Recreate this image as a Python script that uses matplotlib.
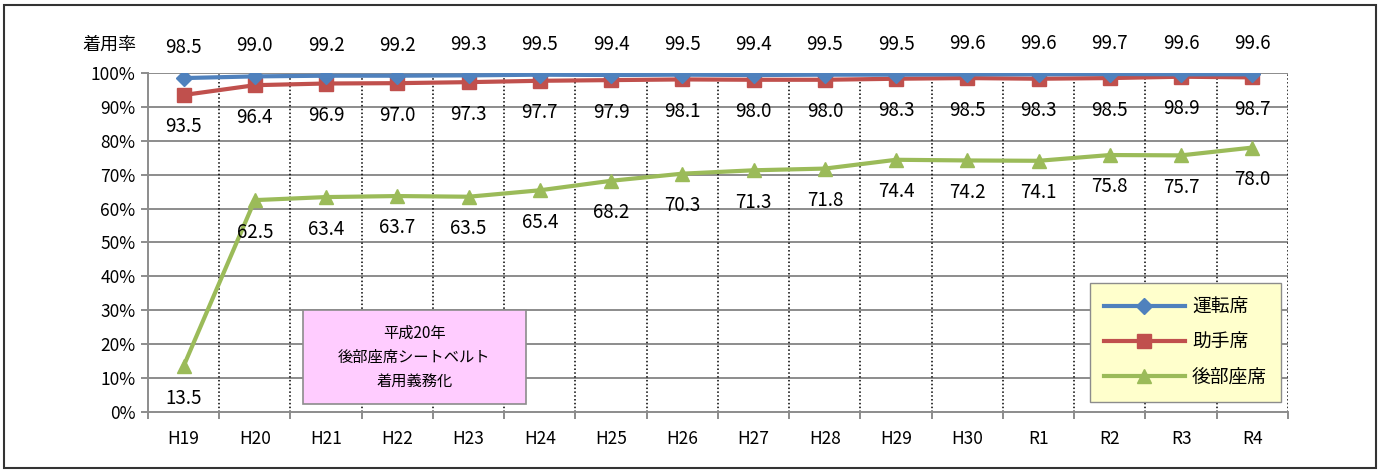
import matplotlib.pyplot as plt
import numpy as np
from matplotlib.patches import Rectangle

plt.rcParams['font.family'] = ['Noto Sans CJK JP', 'DejaVu Sans']

years = ['H19', 'H20', 'H21', 'H22', 'H23', 'H24', 'H25', 'H26', 'H27', 'H28',
         'H29', 'H30', 'R1', 'R2', 'R3', 'R4']
driver = [98.5, 99.0, 99.2, 99.2, 99.3, 99.5, 99.4, 99.5, 99.4, 99.5,
          99.5, 99.6, 99.6, 99.7, 99.6, 99.6]
passenger = [93.5, 96.4, 96.9, 97.0, 97.3, 97.7, 97.9, 98.1, 98.0, 98.0,
             98.3, 98.5, 98.3, 98.5, 98.9, 98.7]
rear = [13.5, 62.5, 63.4, 63.7, 63.5, 65.4, 68.2, 70.3, 71.3, 71.8,
        74.4, 74.2, 74.1, 75.8, 75.7, 78.0]

fig = plt.figure(figsize=(13.8, 4.7), dpi=100)
# outer frame
fig.patches.append(Rectangle((0.003, 0.004), 0.994, 0.985, transform=fig.transFigure,
                             fill=False, edgecolor='#333333', linewidth=1.5))
ax = fig.add_axes([0.1072, 0.1234, 0.8261, 0.7213])

x = np.arange(len(years))
blue, red, green = '#4F81BD', '#C0504D', '#9BBB59'
grid_c = '#8c8c8c'

# grid
for v in range(10, 101, 10):
    ax.axhline(v, color=grid_c, linewidth=1.4, zorder=1)
for b in np.arange(0.5, len(years) + 0.5, 1.0):
    ax.axvline(b, color='black', linestyle=(0, (1, 1.5)), linewidth=1.1, zorder=1)

ax.plot(x, driver, color=blue, marker='D', markersize=8, linewidth=3, zorder=5, label='運転席')
ax.plot(x, passenger, color=red, marker='s', markersize=10, linewidth=3, zorder=4, label='助手席')
ax.plot(x, rear, color=green, marker='^', markersize=10, linewidth=3, zorder=3, label='後部座席')

fs = 13.5
for i in x:
    ax.annotate(f'{driver[i]:.1f}', (i, driver[i]), xytext=(0, 22), textcoords='offset points',
                ha='center', va='center', fontsize=fs)
    ax.annotate(f'{passenger[i]:.1f}', (i, passenger[i]), xytext=(0, -23), textcoords='offset points',
                ha='center', va='center', fontsize=fs)
    ax.annotate(f'{rear[i]:.1f}', (i, rear[i]), xytext=(0, -23), textcoords='offset points',
                ha='center', va='center', fontsize=fs)

ax.set_xlim(-0.5, len(years) - 0.5)
ax.set_ylim(0, 100)
ax.set_yticks(range(0, 101, 10))
ax.set_yticklabels([f'{v}%' for v in range(0, 101, 10)], fontsize=12.5)
ax.set_xticks(x)
ax.set_xticklabels(years, fontsize=12.5)
ax.set_xticks(np.arange(-0.5, len(years), 1.0), minor=True)
ax.tick_params(axis='x', which='major', length=0, pad=13)
ax.tick_params(axis='x', which='minor', length=5, color=grid_c, width=1.4)
ax.tick_params(axis='y', length=5, color=grid_c, width=1.4, pad=4)

for s in ['top', 'right']:
    ax.spines[s].set_visible(False)
for s in ['left', 'bottom']:
    ax.spines[s].set_color(grid_c)
    ax.spines[s].set_linewidth(1.4)

ax.annotate('着用率', (-0.5, 100), xytext=(-8, 20), textcoords='offset points',
            ha='right', va='center', fontsize=13)

# pink note box
ax.add_patch(Rectangle((1.67, 2.4), 3.14, 27.7, facecolor='#FFCCFF', edgecolor=grid_c,
                       linewidth=1.2, zorder=6))
ax.text(1.67 + 3.14 / 2, 16.2, '平成20年\n後部座席シートベルト\n着用義務化', ha='center', va='center',
        fontsize=11, linespacing=1.55, zorder=7)

leg = ax.legend(loc='lower right', bbox_to_anchor=(0.994, 0.03), fontsize=13.5,
                frameon=True, fancybox=False, handlelength=4.3, labelspacing=0.75,
                borderpad=0.75, handletextpad=0.4, borderaxespad=0)
leg.get_frame().set_facecolor('#FFFFCC')
leg.get_frame().set_edgecolor(grid_c)
leg.get_frame().set_alpha(1)
leg.set_zorder(8)

fig.savefig('out.png', dpi=100)
